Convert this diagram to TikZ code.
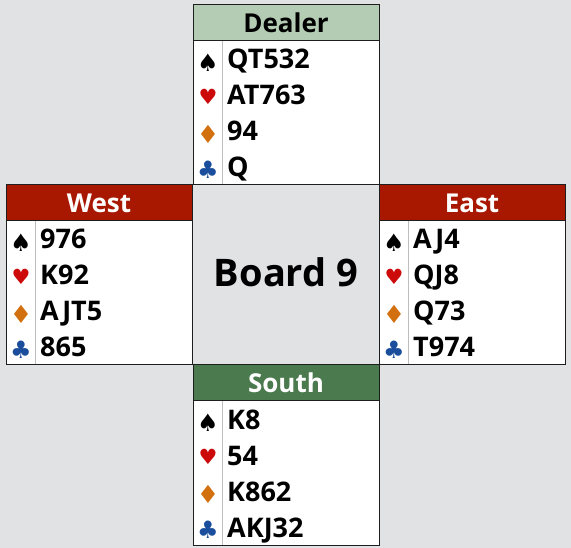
\documentclass[tikz,border=0pt]{standalone}
\usepackage{fontspec}
\setmainfont{Open Sans}
\newfontfamily\suitfont{DejaVu Sans}
\definecolor{bg}{HTML}{E1E2E4}
\definecolor{boxline}{HTML}{1E1E1E}
\definecolor{rule}{HTML}{BDBDBD}
\definecolor{dealerhdr}{HTML}{B4CCB4}
\definecolor{redhdr}{HTML}{A81800}
\definecolor{southhdr}{HTML}{4B7A4E}
\definecolor{heartc}{HTML}{CC0A0A}
\definecolor{diamc}{HTML}{D2700F}
\definecolor{clubc}{HTML}{1A4E9C}
\begin{document}
\begin{tikzpicture}[x=1pt, y=-1pt,
        hdr/.style={draw=boxline,line width=1pt,minimum width=186pt,minimum height=36pt,inner sep=0pt,font=\fontsize{26}{30}\selectfont\bfseries},
        hand/.style={draw=boxline,line width=1pt,fill=white,minimum width=186pt,minimum height=144pt,inner sep=0pt},
        spadesym/.style={inner sep=0pt,font=\suitfont\fontsize{24}{26}\selectfont},
        heartsym/.style={inner sep=0pt,text=heartc,font=\suitfont\fontsize{21}{24}\selectfont},
        diamsym/.style={inner sep=0pt,text=diamc,font=\suitfont\fontsize{25}{26}\selectfont},
        clubsym/.style={inner sep=0pt,text=clubc,font=\suitfont\fontsize{24}{26}\selectfont},
        cards/.style={anchor=base west,inner sep=0pt,font=\fontsize{27}{30}\selectfont\bfseries},
        divider/.style={draw=rule,line width=0.8pt}
        ]
        \useasboundingbox[fill=bg] (0,0) rectangle (571,548);
        % Dealer (north)
        \node[hand] (nhand) at (286,113) {};
        \node[hdr,fill=dealerhdr] (nhdr) at (286,23) {Dealer};
        \draw[divider] (222.5,41.5) -- (222.5,184.5);
        \node[spadesym] (ns) at (208,63) {♠};
        \node[heartsym] (nh) at (208,97) {♥};
        \node[diamsym] (nd) at (208,134) {♦};
        \node[clubsym] (nc) at (208,170) {♣};
        \node[cards] (nsc) at (227,69) {QT532};
        \node[cards] (nhc) at (227,105) {AT763};
        \node[cards] (ndc) at (227,141) {94};
        \node[cards] (ncc) at (227,177) {Q};
        % West
        \node[hand] (whand) at (99,293) {};
        \node[hdr,fill=redhdr,text=white] (whdr) at (99,203) {West};
        \draw[divider] (35.5,221.5) -- (35.5,364.5);
        \node[spadesym] (ws) at (21,243) {♠};
        \node[heartsym] (wh) at (21,277) {♥};
        \node[diamsym] (wd) at (21,314) {♦};
        \node[clubsym] (wc) at (21,350) {♣};
        \node[cards] (wsc) at (40,249) {976};
        \node[cards] (whc) at (40,285) {K92};
        \node[cards] (wdc) at (40,321) {AJT5};
        \node[cards] (wcc) at (40,357) {865};
        % East
        \node[hand] (ehand) at (472,293) {};
        \node[hdr,fill=redhdr,text=white] (ehdr) at (472,203) {East};
        \draw[divider] (408.5,221.5) -- (408.5,364.5);
        \node[spadesym] (es) at (394,243) {♠};
        \node[heartsym] (eh) at (394,277) {♥};
        \node[diamsym] (ed) at (394,314) {♦};
        \node[clubsym] (ec) at (394,350) {♣};
        \node[cards] (esc) at (413,249) {AJ4};
        \node[cards] (ehc) at (413,285) {QJ8};
        \node[cards] (edc) at (413,321) {Q73};
        \node[cards] (ecc) at (413,357) {T974};
        % South
        \node[hand] (shand) at (286,473) {};
        \node[hdr,fill=southhdr,text=white] (shdr) at (286,383) {South};
        \draw[divider] (222.5,401.5) -- (222.5,544.5);
        \node[spadesym] (ss) at (208,423) {♠};
        \node[heartsym] (sh) at (208,457) {♥};
        \node[diamsym] (sd) at (208,494) {♦};
        \node[clubsym] (sc) at (208,530) {♣};
        \node[cards] (ssc) at (227,429) {K8};
        \node[cards] (shc) at (227,465) {54};
        \node[cards] (sdc) at (227,501) {K862};
        \node[cards] (scc) at (227,537) {AKJ32};
        % board number
        \node[anchor=base,font=\fontsize{38}{44}\selectfont\bfseries] (board) at (286,287) {Board 9};
      \end{tikzpicture}
\end{document}
